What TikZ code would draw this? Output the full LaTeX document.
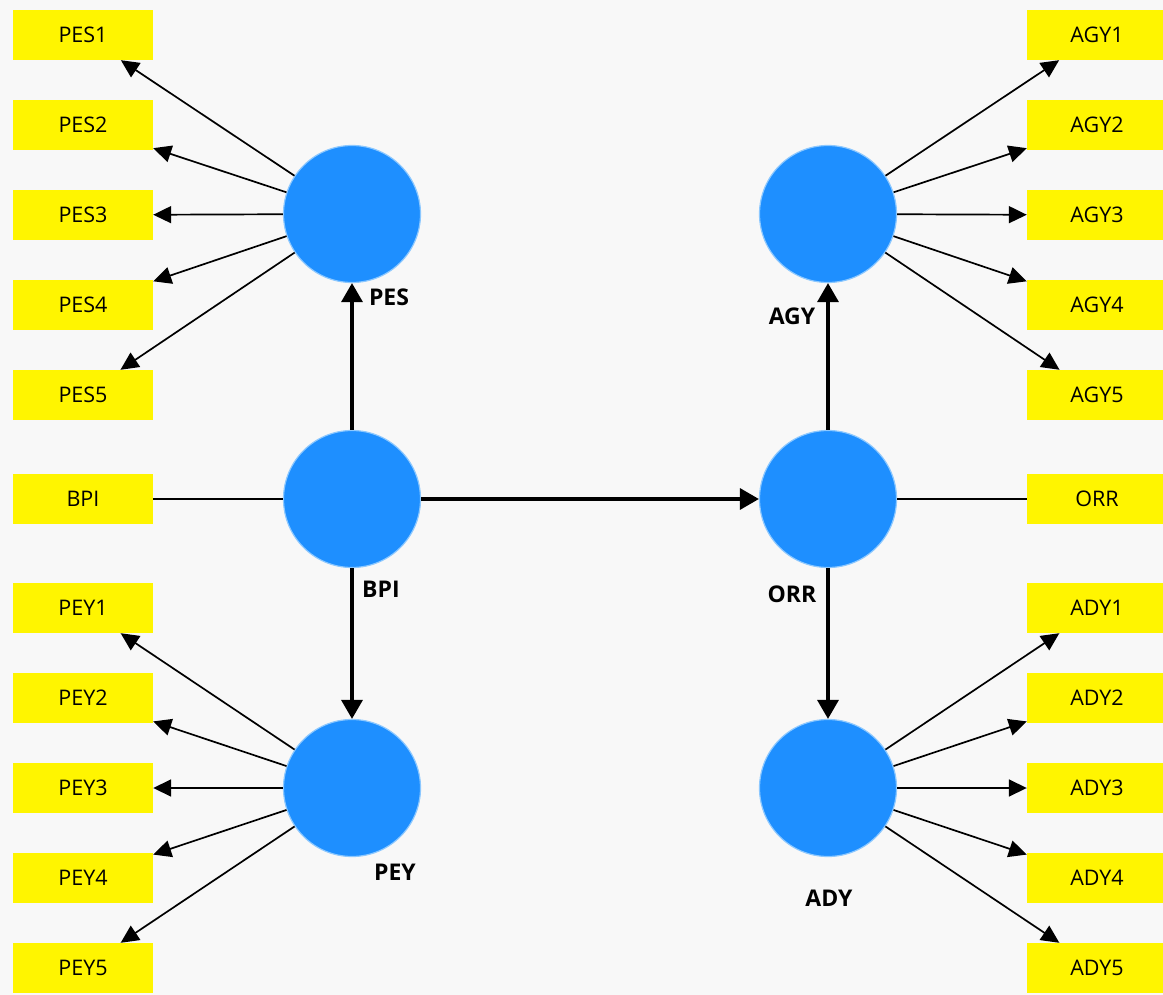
\documentclass[tikz,border=0pt]{standalone}
\usepackage{fontspec}
\setmainfont{Open Sans}
\usetikzlibrary{arrows.meta}
\definecolor{bgc}{HTML}{F8F8F8}
\definecolor{lvc}{HTML}{1E8FFF}
\definecolor{lvedge}{HTML}{8CC8FF}
\definecolor{indc}{HTML}{FFF500}
\tikzset{
  indbox/.style={fill=indc, minimum width=140pt, minimum height=50pt, inner sep=0pt,
    font=\fontsize{21.5}{25}\selectfont},
  latent/.style={circle, fill=lvc, draw=lvedge, line width=1.2pt, minimum size=137pt, inner sep=0pt},
  lvlabel/.style={font=\fontsize{23}{27}\selectfont\bfseries},
  loadarrow/.style={line width=1.7pt, -{Triangle[length=18pt,width=17pt]}},
  structarrow/.style={line width=3.4pt, -{Triangle[length=19pt,width=21pt]}},
  plainlink/.style={line width=1.7pt}
}
\begin{document}
\begin{tikzpicture}[x=1pt,y=-1pt]
\fill[bgc] (0,0) rectangle (1163,995);
\useasboundingbox (0,0) rectangle (1163,995);

% latent variables
\node[latent] (PES) at (352,214) {};
\node[latent] (BPI) at (352,499) {};
\node[latent] (PEY) at (352,788) {};
\node[latent] (AGY) at (828,214) {};
\node[latent] (ORR) at (828,499) {};
\node[latent] (ADY) at (828,788) {};

% labels
\node[lvlabel] (PESlbl) at (389,297) {PES};
\node[lvlabel] (BPIlbl) at (381,589) {BPI};
\node[lvlabel] (PEYlbl) at (395,872) {PEY};
\node[lvlabel] (AGYlbl) at (792,316) {AGY};
\node[lvlabel] (ORRlbl) at (792,594) {ORR};
\node[lvlabel] (ADYlbl) at (829,898) {ADY};

% indicators
\foreach \i/\y in {1/35,2/125,3/215,4/305,5/395}{
  \node[indbox] (PES\i) at (83,\y) {PES\i};
  \draw[loadarrow] (PES) -- (PES\i);
  \node[indbox] (AGY\i) at (1097,\y) {AGY\i};
  \draw[loadarrow] (AGY) -- (AGY\i);
}
\foreach \i/\y in {1/608,2/698,3/788,4/878,5/968}{
  \node[indbox] (PEY\i) at (83,\y) {PEY\i};
  \draw[loadarrow] (PEY) -- (PEY\i);
  \node[indbox] (ADY\i) at (1097,\y) {ADY\i};
  \draw[loadarrow] (ADY) -- (ADY\i);
}
\node[indbox] (BPIi) at (83,499) {BPI};
\node[indbox] (ORRi) at (1097,499) {ORR};
\draw[plainlink] (BPI) -- (BPIi);
\draw[plainlink] (ORR) -- (ORRi);

% structural paths
\draw[structarrow] (BPI) -- (PES);
\draw[structarrow] (BPI) -- (PEY);
\draw[structarrow] (BPI) -- (ORR);
\draw[structarrow] (ORR) -- (AGY);
\draw[structarrow] (ORR) -- (ADY);
\end{tikzpicture}
\end{document}
